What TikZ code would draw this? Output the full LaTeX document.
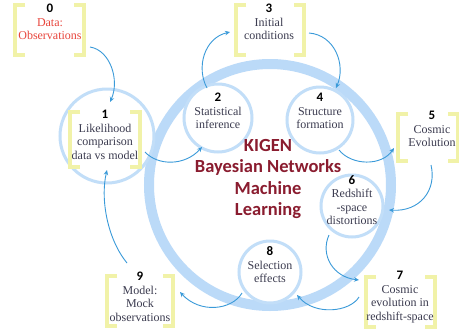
\documentclass[tikz,border=0pt]{standalone}
\usepackage{fontspec}
\setmainfont{Liberation Serif}
\newfontfamily\calib{Carlito}
\usetikzlibrary{calc,arrows.meta}
\definecolor{ringblue}{HTML}{BBDAF8}
\definecolor{bubbleblue}{HTML}{C2DEF8}
\definecolor{brkyellow}{HTML}{F1F2A8}
\definecolor{arrblue}{HTML}{3A9AD9}
\definecolor{bodygray}{HTML}{3C3C50}
\definecolor{datared}{HTML}{E8453C}
\definecolor{kigenred}{HTML}{8A1C2F}
\newcommand\numtxt[1]{{\calib\bfseries\fontsize{13}{14}\selectfont #1}}
\newcommand\drawbrackets[1]{%
  \draw[brk] ($(#1.north west)+(10,0)$) -- (#1.north west) -- (#1.south west) -- ($(#1.south west)+(10,0)$);
  \draw[brk] ($(#1.north east)+(-10,0)$) -- (#1.north east) -- (#1.south east) -- ($(#1.south east)+(-10,0)$);}
\begin{document}
\begin{tikzpicture}[x=1pt,y=-1pt,
  bubble/.style={circle, draw=bubbleblue, line width=3pt, fill=white, inner sep=0pt, outer sep=0pt},
  boxarea/.style={rectangle, inner sep=0pt, outer sep=0pt},
  brk/.style={draw=brkyellow, line width=4pt},
  lbl/.style={align=center, inner sep=0pt, text=bodygray, font=\fontsize{12}{13.5}\selectfont},
  arr/.style={draw=arrblue, line width=0.9pt, -{Stealth[length=5pt,width=4.5pt]}}]
\useasboundingbox (0,0) rectangle (459,330);
\fill[white] (0,0) rectangle (459,330);
% big ring
\node[circle, draw=ringblue, line width=10pt, minimum size=242pt, inner sep=0pt] (ring) at (270,185) {};
% bubbles
\node[bubble, minimum size=94pt] (c1) at (107,136) {};
\node[bubble, minimum size=68pt] (c2) at (218,118) {};
\node[bubble, minimum size=66pt] (c4) at (320,120) {};
\node[bubble, minimum size=62pt] (c6) at (352,206) {};
\node[bubble, minimum size=62pt] (c8) at (270,272) {};
% bracket areas
\node[boxarea, minimum width=69pt, minimum height=50pt] (b0) at (49.5,30) {};
\node[boxarea, minimum width=68pt, minimum height=50pt] (b3) at (270,30) {};
\node[boxarea, minimum width=60pt, minimum height=47pt] (b5) at (428,137.5) {};
\node[boxarea, minimum width=69pt, minimum height=50pt] (b7) at (400.5,302) {};
\node[boxarea, minimum width=66pt, minimum height=50pt] (b9) at (140,301) {};
\node[boxarea, minimum width=70pt, minimum height=55pt] (b1) at (105,139.5) {};
\drawbrackets{b0}
\drawbrackets{b3}
\drawbrackets{b5}
\drawbrackets{b7}
\drawbrackets{b9}
\drawbrackets{b1}
% texts
\node[lbl] (t0) at (50,22) {\numtxt{\color{black}0}\\\color{datared}Data:\\\color{datared}Observations};
\node[lbl] (t1) at (105,135) {\numtxt{\color{black}1}\\Likelihood\\comparison\\data vs model};
\node[lbl] (t2) at (218,111) {\numtxt{\color{black}2}\\Statistical\\inference};
\node[lbl] (t3) at (269,22) {\numtxt{\color{black}3}\\Initial\\conditions};
\node[lbl] (t4) at (320,111) {\numtxt{\color{black}4}\\Structure\\formation};
\node[lbl] (t5) at (432,129) {\numtxt{\color{black}5}\\Cosmic\\Evolution};
\node[lbl] (t6) at (352,200) {\numtxt{\color{black}6}\\Redshift\\-space\\distortions};
\node[lbl] (t7) at (400,297) {\numtxt{\color{black}7}\\Cosmic\\evolution in\\redshift-space};
\node[lbl] (t8) at (270,265) {\numtxt{\color{black}8}\\Selection\\effects};
\node[lbl] (t9) at (140,297) {\numtxt{\color{black}9}\\Model:\\Mock\\observations};
\node[align=center, inner sep=0pt, text=kigenred, font=\calib\bfseries\fontsize{18.5}{21.5}\selectfont] (kigen) at (268,179)
  {KIGEN\\Bayesian Networks\\Machine\\Learning};
% arrows
\draw[arr] ($(b0.south east)+(6,-8)$) .. controls (110,50) and (120,80) .. ($(c1.center)+(3,-34)$);
\draw[arr] ($(c1.center)+(38,16)$) .. controls (158,166) and (185,166) .. ($(c2.center)+(-16,29)$);
\draw[arr] ($(c2.center)+(-11,-30)$) .. controls (196,68) and (204,38) .. ($(b3.west)+(-6,2)$);
\draw[arr] ($(b3.east)+(5,3)$) .. controls (335,35) and (346,65) .. ($(c4.center)+(16,-32)$);
\draw[arr] ($(c4.center)+(19,30)$) .. controls (352,166) and (382,166) .. ($(b5.west)+(-4,10.5)$);
\draw[arr] ($(b5.south)+(3,4)$) .. controls (437,190) and (420,212) .. ($(c6.center)+(37,4)$);
\draw[arr] ($(c6.center)+(-23,29)$) .. controls (320,255) and (333,277) .. ($(b7.north west)+(-7,3)$);
\draw[arr] ($(b7.west)+(-7,-5)$) .. controls (350,312) and (315,316) .. ($(c8.center)+(27,23)$);
\draw[arr] ($(c8.center)+(-28,21)$) .. controls (232,310) and (200,314) .. ($(b9.east)+(7,-9)$);
\draw[arr] ($(b9.north)+(-13,-13)$) .. controls (108,240) and (100,200) .. ($(c1.center)+(0,34)$);
\end{tikzpicture}
\end{document}
